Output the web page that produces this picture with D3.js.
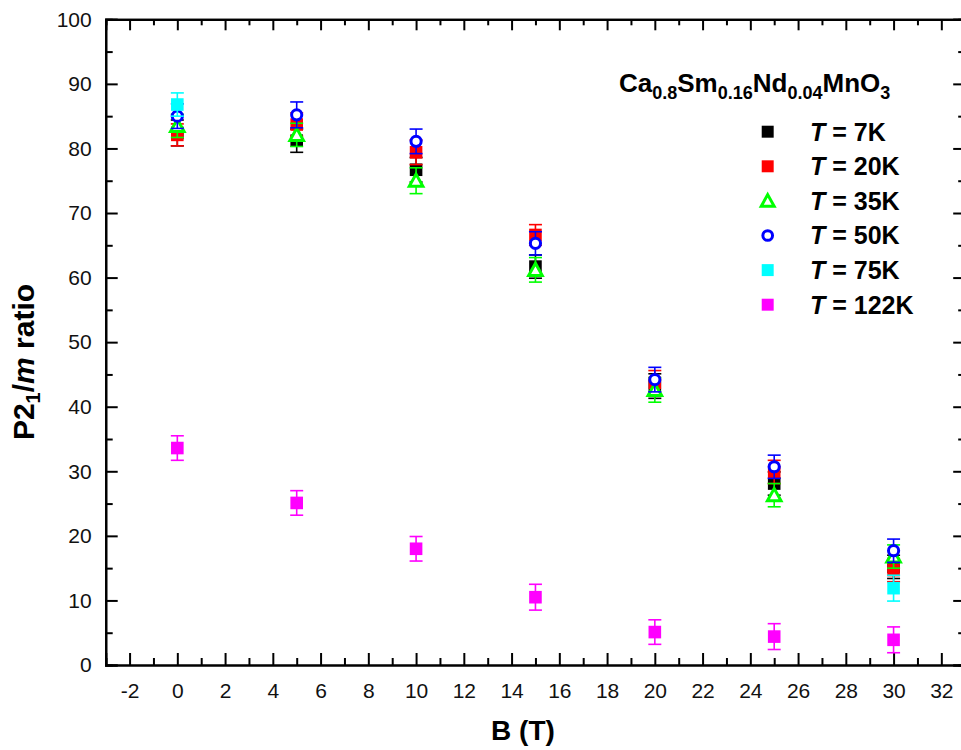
<!DOCTYPE html>
<html>
<head>
<meta charset="utf-8">
<script src="https://cdn.jsdelivr.net/npm/d3@7"></script>
<style>
  html, body { margin: 0; padding: 0; background: #fff; }
  svg { display: block; font-family: "Liberation Sans", Arial, sans-serif; }
</style>
</head>
<body>
<svg id="chart" width="961" height="750"></svg>
<script>
// Magnetic field values (T)
const fieldB = [0, 5, 10, 15, 20, 25, 30];

// P2_1/m phase fraction (%) per temperature, with error bars
const ratio7K   = [82.4, 81.2, 76.7, 61.7, 43.2, 28.1, 15.2];
const err7K     = [2.0, 1.8, 1.9, 1.8, 1.9, 1.8, 1.8];
const ratio20K  = [82.1, 83.7, 79.4, 66.6, 43.7, 29.9, 14.7];
const err20K    = [1.7, 1.8, 1.9, 1.6, 1.9, 1.8, 1.8];
const ratio35K  = [83.5, 82.1, 75.0, 61.2, 42.6, 26.3, 16.8];
const err35K    = [1.8, 1.8, 2.0, 1.9, 1.9, 1.8, 1.8];
const ratio50K  = [85.0, 85.2, 81.1, 65.3, 44.2, 30.7, 17.7];
const err50K    = [1.9, 2.0, 1.9, 1.8, 1.9, 1.8, 1.8];
const field75K  = [0, 30];
const ratio75K  = [86.8, 11.9];
const err75K    = [1.8, 2.0];
const ratio122K = [33.6, 25.1, 18.0, 10.5, 5.1, 4.4, 3.9];
const err122K   = [1.9, 1.9, 1.9, 2.0, 1.9, 2.0, 2.0];

// Legend labels (temperatures in K)
const tempLabels = ["7K", "20K", "35K", "50K", "75K", "122K"];

// Axis ticks
const xTicks = d3.range(-2, 33, 2);
const yTicks = d3.range(0, 101, 10);

(function () {
  const series = [
    { label: tempLabels[0], x: fieldB,   y: ratio7K,   e: err7K,   color: "#000000", shape: "square" },
    { label: tempLabels[1], x: fieldB,   y: ratio20K,  e: err20K,  color: "#ff0000", shape: "square" },
    { label: tempLabels[2], x: fieldB,   y: ratio35K,  e: err35K,  color: "#00ff00", shape: "triangle" },
    { label: tempLabels[3], x: fieldB,   y: ratio50K,  e: err50K,  color: "#0000ff", shape: "circle" },
    { label: tempLabels[4], x: field75K, y: ratio75K,  e: err75K,  color: "#00ffff", shape: "square" },
    { label: tempLabels[5], x: fieldB,   y: ratio122K, e: err122K, color: "#ff00ff", shape: "square" }
  ];

  const svg = d3.select("#chart");
  const pLeft = 105.7, pRight = 965.2, pTop = 19.3, pBottom = 665;

  const x = d3.scaleLinear().domain([-3, 33]).range([pLeft, pRight]);
  const y = d3.scaleLinear().domain([0, 100]).range([pBottom, pTop]);

  const xMinor = d3.range(-3, 34, 1).filter(v => v % 2 !== 0);
  const yMinor = d3.range(5, 100, 10);
  const plainNum = d => String(d);

  // Frame with inward ticks on all four sides
  const gx = svg.append("g").attr("transform", `translate(0,${pBottom})`)
    .call(d3.axisBottom(x).tickValues(xTicks).tickSize(-12).tickPadding(18).tickFormat(plainNum));
  gx.selectAll("text").attr("font-size", 21).attr("fill", "#111").attr("dy", "0.71em");

  const gy = svg.append("g").attr("transform", `translate(${pLeft},0)`)
    .call(d3.axisLeft(y).tickValues(yTicks).tickSize(-12).tickPadding(14).tickFormat(plainNum));
  gy.selectAll("text").attr("font-size", 21).attr("fill", "#111");

  svg.append("g").attr("transform", `translate(0,${pTop})`)
    .call(d3.axisTop(x).tickValues(xTicks).tickSize(-11).tickFormat(""));
  svg.append("g").attr("transform", `translate(${pRight},0)`)
    .call(d3.axisRight(y).tickValues(yTicks).tickSize(-12).tickFormat(""));

  // Minor ticks
  svg.append("g").attr("transform", `translate(0,${pBottom})`)
    .call(d3.axisBottom(x).tickValues(xMinor).tickSize(-7).tickFormat(""));
  svg.append("g").attr("transform", `translate(0,${pTop})`)
    .call(d3.axisTop(x).tickValues(xMinor).tickSize(-6).tickFormat(""));
  svg.append("g").attr("transform", `translate(${pLeft},0)`)
    .call(d3.axisLeft(y).tickValues(yMinor).tickSize(-7).tickFormat(""));
  svg.append("g").attr("transform", `translate(${pRight},0)`)
    .call(d3.axisRight(y).tickValues(yMinor).tickSize(-7).tickFormat(""));

  svg.selectAll(".domain").attr("stroke", "#000").attr("stroke-width", 2.2);
  svg.selectAll(".tick line").attr("stroke", "#000").attr("stroke-width", 2);

  // Axis titles
  svg.append("text")
    .attr("x", 523).attr("y", 740)
    .attr("text-anchor", "middle")
    .attr("font-size", 28).attr("font-weight", "bold")
    .text("B (T)");

  const yTitle = svg.append("text")
    .attr("transform", "translate(34,362) rotate(-90)")
    .attr("text-anchor", "middle")
    .attr("font-size", 30).attr("font-weight", "bold");
  yTitle.append("tspan").text("P2");
  yTitle.append("tspan").attr("font-size", 20).attr("dy", 6).text("1");
  yTitle.append("tspan").attr("dy", -6).text("/");
  yTitle.append("tspan").attr("font-style", "italic").text("m");
  yTitle.append("tspan").text(" ratio");

  // Marker drawing
  function drawMarker(g, shape, color, cx, cy, scale) {
    const s = scale || 1;
    if (shape === "square") {
      const h = 6.3 * s;
      g.append("rect").attr("x", cx - h).attr("y", cy - h)
        .attr("width", 2 * h).attr("height", 2 * h).attr("fill", color);
    } else if (shape === "circle") {
      g.append("circle").attr("cx", cx).attr("cy", cy).attr("r", 5.1 * s)
        .attr("fill", "#fff").attr("stroke", color).attr("stroke-width", 3);
    } else if (shape === "triangle") {
      const w = 6.8 * s, hUp = 6.6 * s, hDn = 5.6 * s;
      g.append("path")
        .attr("d", `M${cx},${cy - hUp}L${cx + w},${cy + hDn}L${cx - w},${cy + hDn}Z`)
        .attr("fill", "#fff").attr("stroke", color).attr("stroke-width", 3);
    }
  }

  const plot = svg.append("g");
  const cap = 6.5;
  series.forEach(s => {
    const g = plot.append("g");
    s.x.forEach((bv, i) => {
      const cx = x(bv);
      const yHi = y(s.y[i] + s.e[i]), yLo = y(s.y[i] - s.e[i]);
      g.append("line").attr("x1", cx).attr("x2", cx).attr("y1", yHi).attr("y2", yLo)
        .attr("stroke", s.color).attr("stroke-width", 1.6);
      [yHi, yLo].forEach(yy => {
        g.append("line").attr("x1", cx - cap).attr("x2", cx + cap).attr("y1", yy).attr("y2", yy)
          .attr("stroke", s.color).attr("stroke-width", 1.6);
      });
      drawMarker(g, s.shape, s.color, cx, y(s.y[i]), 1);
    });
  });

  // Legend
  const legend = svg.append("g");
  const title = legend.append("text")
    .attr("x", 619).attr("y", 92)
    .attr("font-size", 26).attr("font-weight", "bold");
  const formula = [["Ca", "0.8"], ["Sm", "0.16"], ["Nd", "0.04"], ["MnO", "3"]];
  formula.forEach(([el, sub], k) => {
    title.append("tspan").attr("dy", k === 0 ? 0 : -7).text(el);
    title.append("tspan").attr("font-size", 18).attr("dy", 7).text(sub);
  });

  const legX = 767.7, legY0 = 131.7, legDy = 34.6;
  series.forEach((s, i) => {
    const ly = legY0 + i * legDy;
    drawMarker(legend, s.shape, s.color, legX, ly, 0.95);
    const t = legend.append("text")
      .attr("x", 810).attr("y", ly + 8.8)
      .attr("font-size", 25).attr("font-weight", "bold");
    t.append("tspan").attr("font-style", "italic").text("T");
    t.append("tspan").text(" = " + s.label);
  });
})();
</script>
</body>
</html>
